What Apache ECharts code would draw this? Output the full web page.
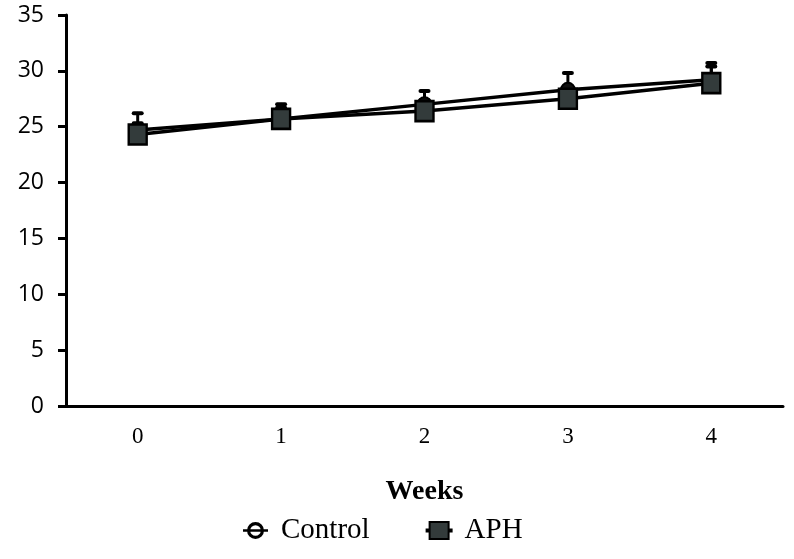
<!DOCTYPE html>
<html>
<head>
<meta charset="utf-8">
<script src="https://cdn.jsdelivr.net/npm/echarts@6/dist/echarts.min.js"></script>
<style>html,body{margin:0;padding:0;background:#fff}#c{width:794px;height:559px}</style>
</head>
<body>
<div id="c"></div>
<script>
var weeks = ['0', '1', '2', '3', '4'];
var controlMean = [24.7, 25.7, 27.0, 28.3, 29.2];
var controlSD = [1.5, 1.3, 1.2, 1.5, 1.5];
var aphMean = [24.3, 25.7, 26.4, 27.5, 28.9];
var aphSD = [1.0, 1.0, 1.0, 1.0, 1.5];
var yTicks = [0, 5, 10, 15, 20, 25, 30, 35];

function errData(mean, sd) {
  return mean.map(function (m, i) { return [i, m, m + sd[i]]; });
}
function errRender(params, api) {
  var x = api.value(0);
  var lo = api.coord([x, api.value(1)]);
  var hi = api.coord([x, api.value(2)]);
  var cw = 4;
  var st = { stroke: '#000', lineWidth: 3, lineCap: 'round' };
  return {
    type: 'group',
    children: [
      { type: 'line', shape: { x1: hi[0], y1: hi[1], x2: lo[0], y2: lo[1] }, style: st },
      { type: 'line', shape: { x1: hi[0] - cw, y1: hi[1], x2: hi[0] + cw, y2: hi[1] }, style: { stroke: '#000', lineWidth: 4, lineCap: 'round' } }
    ]
  };
}

var ringIcon = 'path://M4,8.5 A8.5,8.5 0 1,1 21,8.5 A8.5,8.5 0 1,1 4,8.5 Z M7.2,8.5 A5.3,5.3 0 1,0 17.8,8.5 A5.3,5.3 0 1,0 7.2,8.5 Z M0,7.2 L25,7.2 L25,9.8 L0,9.8 Z';
var sqIcon = 'path://M3,0 L22,0 L22,17 L3,17 Z M0,7.5 L3,7.5 L3,9.5 L0,9.5 Z M22,7.5 L25,7.5 L25,9.5 L22,9.5 Z';

var chart = echarts.init(document.getElementById('c'));
chart.setOption({
  animation: false,
  grid: { left: 66, right: 11, top: 15, bottom: 153 },
  legend: {
    bottom: 9,
    left: 238,
    itemGap: 56,
    itemWidth: 25,
    itemHeight: 17,
    data: [
      { name: 'Control', icon: ringIcon, itemStyle: { color: '#000', borderWidth: 0 } },
      { name: 'APH', icon: sqIcon, itemStyle: { color: '#333b3b', borderColor: '#000', borderWidth: 2 } }
    ],
    textStyle: { fontFamily: 'Liberation Serif', fontSize: 29, color: '#000', padding: [0, 0, 0, 8] }
  },
  xAxis: {
    type: 'category',
    data: weeks,
    boundaryGap: true,
    name: 'Weeks',
    nameLocation: 'middle',
    nameGap: 72,
    nameTextStyle: { fontFamily: 'Liberation Serif', fontWeight: 'bold', fontSize: 28, color: '#000' },
    axisLine: { lineStyle: { color: '#000', width: 3 } },
    axisTick: { alignWithLabel: true, length: 7, lineStyle: { color: '#000', width: 3 } },
    axisLabel: { fontFamily: 'Liberation Serif', fontSize: 23, color: '#000', margin: 19 }
  },
  yAxis: {
    type: 'value',
    min: 0, max: 35, interval: 5,
    axisLine: { show: true, lineStyle: { color: '#000', width: 3 } },
    axisTick: { show: true, length: 8, lineStyle: { color: '#000', width: 3 } },
    splitLine: { show: false },
    axisLabel: {
      fontFamily: 'Open Sans', fontSize: 23, color: '#000', margin: 22,
      formatter: function (v) { return yTicks.indexOf(v) >= 0 ? String(v) : ''; }
    }
  },
  series: [
    {
      name: 'ControlErr', type: 'custom', z: 1,
      renderItem: errRender, data: errData(controlMean, controlSD),
      encode: { x: 0, y: [1, 2] }, silent: true
    },
    {
      name: 'APHErr', type: 'custom', z: 1,
      renderItem: errRender, data: errData(aphMean, aphSD),
      encode: { x: 0, y: [1, 2] }, silent: true
    },
    {
      name: 'Control', type: 'line', z: 3,
      data: controlMean,
      symbol: 'circle', symbolSize: 14,
      lineStyle: { color: '#000', width: 3.5 },
      itemStyle: { color: '#111', borderColor: '#000', borderWidth: 2 }
    },
    {
      name: 'APH', type: 'line', z: 4,
      data: aphMean,
      symbol: 'rect', symbolSize: [18, 20],
      lineStyle: { color: '#000', width: 3.5 },
      itemStyle: { color: '#333b3b', borderColor: '#000', borderWidth: 2.5 }
    }
  ]
});
</script>
</body>
</html>
